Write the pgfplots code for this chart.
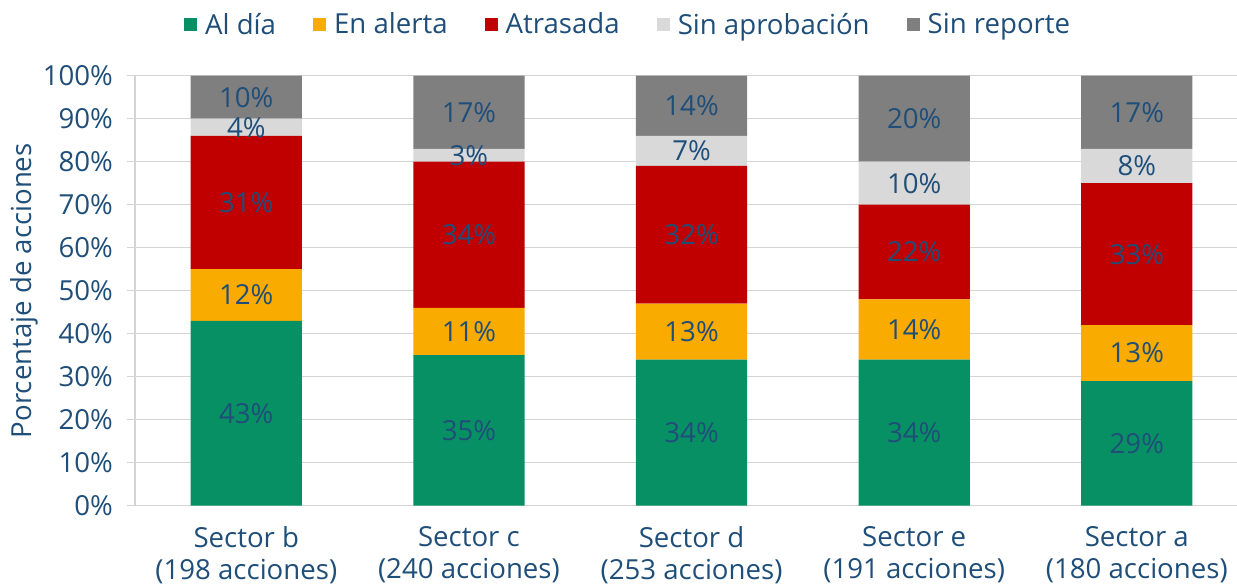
\documentclass[border=0pt]{standalone}
\usepackage{fontspec}
\setmainfont{Open Sans}
\usepackage{pgfplots}
\pgfplotsset{compat=1.18}
\usepackage{pgfplotstable}
\definecolor{cgreen}{HTML}{089065}
\definecolor{corange}{HTML}{F9AB00}
\definecolor{cred}{HTML}{C00000}
\definecolor{clgray}{HTML}{D9D9D9}
\definecolor{cdgray}{HTML}{7F7F7F}
\definecolor{ctext}{HTML}{1F4E79}
\definecolor{cgrid}{HTML}{D4D4D4}
\newcommand\f{\fontsize{13.8}{16}\selectfont}

\pgfplotstableread{
x a b c d e
0 43 12 31 4 10
1 35 11 34 3 17
2 34 13 32 7 14
3 34 14 22 10 20
4 29 13 33 8 17
}\data

\begin{document}
\begin{tikzpicture}
\begin{axis}[
  width=551pt, height=215pt, scale only axis,
  xmin=-0.5, xmax=4.45, ymin=0, ymax=100,
  ybar stacked, bar width=0.5,
  xtick={0,1,2,3,4},
  xticklabels={{Sector b\\(198 acciones)},{Sector c\\(240 acciones)},{Sector d\\(253 acciones)},{Sector e\\(191 acciones)},{Sector a\\(180 acciones)}},
  xticklabel style={align=center, font=\f, text=ctext, yshift=-3pt},
  ytick={0,10,...,100},
  yticklabels={0\%,10\%,20\%,30\%,40\%,50\%,60\%,70\%,80\%,90\%,100\%},
  yticklabel style={font=\f, text=ctext, xshift=-3.5pt},
  ylabel={Porcentaje de acciones},
  ylabel style={font=\f, text=ctext, at={(axis description cs:-0.1,0.5)}, anchor=center},
  axis x line*=bottom, axis y line*=left,
  axis line style={-, draw=cgrid, line width=0.75pt},
  ymajorgrids, grid style={cgrid, line width=0.75pt},
  tick align=outside, major tick length=4pt,
  ytick style={draw=cgrid, line width=0.75pt},
  xtick style={draw=none},
  point meta=explicit,
  nodes near coords={\pgfmathprintnumber[assume math mode=true]{\pgfplotspointmeta}\%},
  every node near coord/.append style={font=\f, text=ctext, anchor=center},
  legend style={draw=none, fill=none, at={(axis description cs:0.448,1.118)}, anchor=center,
    legend columns=-1, font=\f, text=ctext,
    /tikz/every odd column/.append style={column sep=2.5pt},
    /tikz/every even column/.append style={column sep=17pt},
    nodes={inner sep=1.5pt}},
  legend image code/.code={\fill[#1] (0pt,-3.25pt) rectangle (6.5pt,3.25pt);},
]
\addplot[fill=cgreen, draw=none] table[x=x,y=a,meta=a]{\data};
\addplot[fill=corange, draw=none] table[x=x,y=b,meta=b]{\data};
\addplot[fill=cred, draw=none] table[x=x,y=c,meta=c]{\data};
\addplot[fill=clgray, draw=none] table[x=x,y=d,meta=d]{\data};
\addplot[fill=cdgray, draw=none] table[x=x,y=e,meta=e]{\data};
\legend{Al día, En alerta, Atrasada, Sin aprobación, Sin reporte}
\coordinate (O) at (rel axis cs:0,0);
\end{axis}
\pgfresetboundingbox
\path[use as bounding box] (O) ++(-67.5pt,-39.15pt) rectangle ++(618.5pt,292pt);
\end{tikzpicture}
\end{document}
